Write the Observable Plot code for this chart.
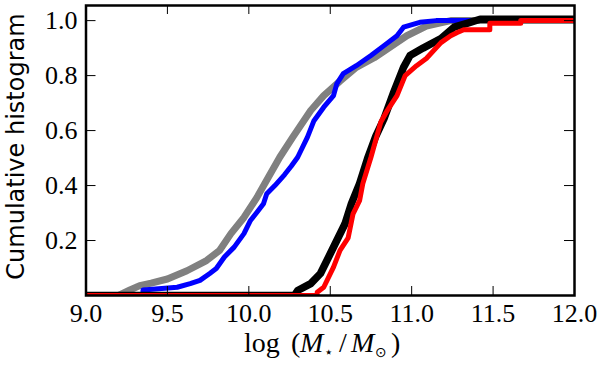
<!DOCTYPE html>
<html><head><meta charset="utf-8">
<script src="https://cdn.jsdelivr.net/npm/d3@7"></script>
<script src="https://cdn.jsdelivr.net/npm/@observablehq/plot@0.6"></script>
<style>body{margin:0;background:#fff}
svg text{font-family:"Liberation Serif","Times New Roman","DejaVu Serif",serif}</style>
</head><body><div id="chart"></div>
<script>
// Cumulative histograms of log stellar mass, four samples
const grayX = [9.0, 9.20, 9.27, 9.33, 9.40, 9.50, 9.62, 9.74, 9.82, 9.89, 9.97, 10.05, 10.12, 10.19, 10.27, 10.38, 10.46, 10.56, 10.66, 10.77, 10.87, 10.97, 11.09, 11.24, 11.40, 12.0];
const grayY = [0, 0, 0.02, 0.036, 0.045, 0.06, 0.09, 0.127, 0.164, 0.225, 0.284, 0.357, 0.43, 0.503, 0.576, 0.673, 0.727, 0.78, 0.83, 0.865, 0.905, 0.945, 0.98, 1.0, 1.0, 1.0];

const blueX = [9.0, 9.35, 9.35, 9.56, 9.64, 9.70, 9.76, 9.80, 9.85, 9.91, 9.97, 10.01, 10.05, 10.09, 10.11, 10.16, 10.22, 10.26, 10.30, 10.36, 10.40, 10.46, 10.52, 10.54, 10.58, 10.66, 10.75, 10.83, 10.91, 10.95, 11.05, 11.15, 12.0];
const blueY = [0, 0, 0.02, 0.03, 0.043, 0.055, 0.08, 0.098, 0.14, 0.176, 0.225, 0.273, 0.303, 0.334, 0.37, 0.40, 0.44, 0.47, 0.503, 0.576, 0.636, 0.685, 0.727, 0.77, 0.807, 0.836, 0.873, 0.909, 0.945, 0.976, 0.994, 1.0, 1.0];

const blackX = [9.0, 10.28, 10.30, 10.38, 10.44, 10.50, 10.54, 10.59, 10.63, 10.68, 10.73, 10.78, 10.83, 10.89, 10.95, 10.99, 11.07, 11.18, 11.26, 11.34, 11.42, 12.0];
const blackY = [0, 0, 0.018, 0.043, 0.08, 0.152, 0.2, 0.26, 0.334, 0.407, 0.50, 0.58, 0.643, 0.74, 0.83, 0.873, 0.9, 0.935, 0.976, 0.99, 1.005, 1.005];

const redX = [9.0, 10.42, 10.42, 10.46, 10.52, 10.56, 10.61, 10.64, 10.68, 10.70, 10.75, 10.81, 10.85, 10.91, 10.96, 11.03, 11.09, 11.18, 11.24, 11.28, 11.32, 11.48, 11.48, 11.67, 11.67, 12.0];
const redY = [0, 0, 0.012, 0.03, 0.103, 0.164, 0.21, 0.297, 0.345, 0.407, 0.503, 0.63, 0.673, 0.727, 0.80, 0.836, 0.862, 0.92, 0.945, 0.957, 0.967, 0.967, 0.99, 0.99, 1.0, 1.0];

const xTicks = [9.0, 9.5, 10.0, 10.5, 11.0, 11.5, 12.0];
const yTicks = [0.2, 0.4, 0.6, 0.8, 1.0];
const yLabel = "Cumulative histogram";

function series(xs, ys) { return xs.map((x, i) => ({x, y: ys[i]})); }
const gray = series(grayX, grayY);
const blue = series(blueX, blueY);
const black = series(blackX, blackY);
const red = series(redX, redY);

const W = 600, H = 369, ml = 85.5, mr = 26, mt = 5, mb = 74;
const ph = H - mt - mb;

const plot = Plot.plot({
  width: W, height: H,
  marginLeft: ml, marginRight: mr, marginTop: mt, marginBottom: mb,
  style: {background: "white", color: "black"},
  x: {domain: [9, 12]},
  y: {domain: [0, 1.055]},
  marks: [
    Plot.line(gray, {x: "x", y: "y", stroke: "#808080", strokeWidth: 7, clip: true}),
    Plot.line(blue, {x: "x", y: "y", stroke: "#0000ff", strokeWidth: 5, clip: true}),
    Plot.line(black, {x: "x", y: "y", stroke: "#000000", strokeWidth: 7.5, clip: true}),
    Plot.line(red, {x: "x", y: "y", stroke: "#ff0000", strokeWidth: 5, clip: true}),
    Plot.tickX(xTicks, {x: d => d, insetTop: ph - 9, stroke: "black", strokeWidth: 1}),
    Plot.tickX(xTicks, {x: d => d, insetBottom: ph - 9, stroke: "black", strokeWidth: 1}),
    Plot.tickY(yTicks, {y: d => d, insetRight: (W - ml - mr) - 10, stroke: "black", strokeWidth: 1}),
    Plot.tickY(yTicks, {y: d => d, insetLeft: (W - ml - mr) - 10, stroke: "black", strokeWidth: 1}),
    Plot.axisX(xTicks, {tickSize: 0, tickPadding: 8, tickFormat: d3.format(".1f"), label: null, fontSize: 26}),
    Plot.axisY(yTicks, {tickSize: 0, tickPadding: 8.5, tickFormat: d3.format(".1f"), label: null, fontSize: 26}),
    Plot.text([yLabel], {text: d => d, frameAnchor: "left", textAnchor: "middle", rotate: -90, dx: -70, dy: -4, fontSize: 24, fill: "black"}),
    Plot.frame({stroke: "black", strokeWidth: 2.5})
  ]
});

const svg = d3.select(plot);
svg.selectAll("text").filter(function () { return this.textContent === yLabel; }).style("font-family", "'DejaVu Sans'");

// x-axis label: log (M_star / M_sun)
const t = svg.append("text")
  .attr("y", 352).attr("text-anchor", "start")
  .attr("font-size", 28).attr("fill", "black");
t.append("tspan").attr("x", 244).text("log");
t.append("tspan").attr("x", 291).text("(");
t.append("tspan").attr("x", 300).attr("font-style", "italic").text("M");
t.append("tspan").attr("x", 324).attr("font-size", 15).attr("dy", 5).text("\u22c6");
t.append("tspan").attr("x", 339).attr("dy", -5).text("/");
t.append("tspan").attr("x", 351).attr("font-style", "italic").text("M");
t.append("tspan").attr("x", 375).attr("font-size", 14).attr("dy", 5).style("font-family", "'DejaVu Sans'").text("\u2299");
t.append("tspan").attr("x", 391).attr("dy", -5).text(")");

document.getElementById("chart").appendChild(plot);
</script>
</body></html>
